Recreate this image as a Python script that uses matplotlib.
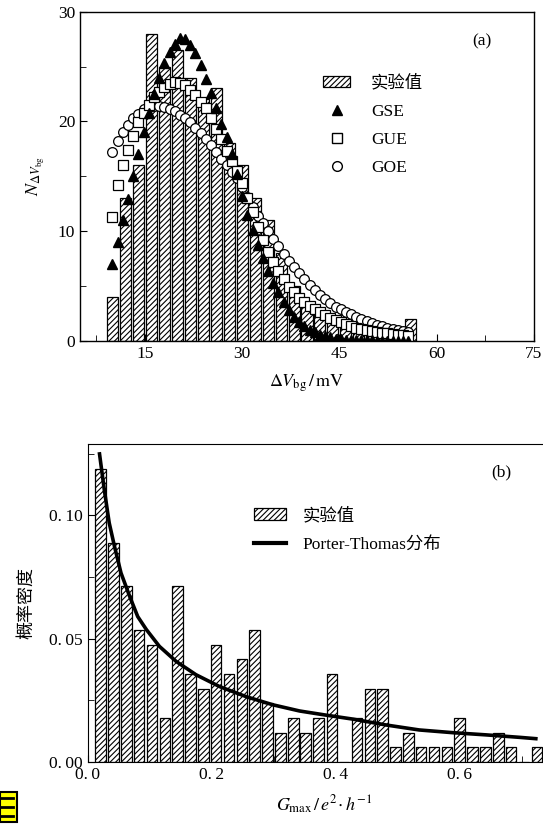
import matplotlib
matplotlib.use("Agg")
import matplotlib.pyplot as plt
from matplotlib.patches import Rectangle
from matplotlib.lines import Line2D
from matplotlib.ticker import MultipleLocator, FixedLocator

plt.rcParams['font.family'] = ['Liberation Serif', 'Noto Sans CJK SC', 'DejaVu Sans']
plt.rcParams['mathtext.fontset'] = 'stix'
plt.rcParams['hatch.linewidth'] = 0.8

# ---------------- panel (a) data ----------------
bar_a_x = [10, 12, 14, 16, 18, 20, 22, 24, 26, 28, 30, 32, 34, 36, 38, 40, 42, 44, 46, 48, 50, 52, 54, 56]
bar_a_h = [4, 13, 16, 28, 25, 26.5, 24, 22, 23, 18, 16, 13, 11, 8, 5, 3.5, 2.5, 2, 1.5, 1, 0.5, 0.5, 0.5, 2]

curve_x = [10.0, 10.8, 11.6, 12.4, 13.2, 14.0, 14.8, 15.6, 16.4, 17.2, 18.0, 18.8, 19.6, 20.4, 21.2,
           22.0, 22.8, 23.6, 24.4, 25.2, 26.0, 26.8, 27.6, 28.4, 29.2, 30.0, 30.8, 31.6, 32.4, 33.2,
           34.0, 34.8, 35.6, 36.4, 37.2, 38.0, 38.8, 39.6, 40.4, 41.2, 42.0, 42.8, 43.6, 44.4, 45.2,
           46.0, 46.8, 47.6, 48.4, 49.2, 50.0, 50.8, 51.6, 52.4, 53.2, 54.0, 54.8, 55.6]
gse = [7.0, 9.0, 11.0, 12.9, 15.0, 17.0, 19.0, 20.8, 22.5, 24.0, 25.3, 26.3, 27.1, 27.6, 27.5,
       27.0, 26.2, 25.1, 23.9, 22.6, 21.2, 19.8, 18.6, 17.0, 15.2, 13.2, 11.5, 10.1, 8.7, 7.5,
       6.4, 5.3, 4.4, 3.5, 2.8, 2.2, 1.7, 1.3, 1.0, 0.75, 0.55, 0.4, 0.3, 0.2, 0.14,
       0.1, 0.07, 0.05, 0.03, 0.02, 0.02, 0.01, 0.01, 0.01, 0.0, 0.0, 0.0, 0.0]
gue = [11.3, 14.2, 16.0, 17.4, 18.7, 19.9, 20.8, 21.5, 22.2, 22.7, 23.1, 23.4, 23.6, 23.5, 23.3,
       22.9, 22.4, 21.8, 21.2, 20.3, 19.3, 18.4, 17.3, 16.4, 15.5, 14.4, 13.0, 11.7, 10.4, 9.2,
       8.1, 7.2, 6.4, 5.6, 4.9, 4.4, 3.9, 3.5, 3.2, 2.9, 2.6, 2.3, 2.1, 1.9, 1.7,
       1.5, 1.3, 1.15, 1.05, 0.95, 0.85, 0.78, 0.72, 0.66, 0.6, 0.54, 0.48, 0.42]
goe = [17.2, 18.2, 19.0, 19.7, 20.3, 20.7, 21.1, 21.3, 21.4, 21.4, 21.3, 21.1, 20.9, 20.6, 20.3,
       19.9, 19.4, 18.9, 18.4, 17.8, 17.2, 16.6, 16.0, 15.4, 14.8, 14.0, 13.1, 12.2, 11.4, 10.7,
       10.0, 9.3, 8.6, 7.9, 7.3, 6.7, 6.2, 5.6, 5.1, 4.6, 4.2, 3.8, 3.4, 3.1, 2.9,
       2.6, 2.4, 2.2, 2.0, 1.8, 1.6, 1.45, 1.3, 1.2, 1.05, 0.95, 0.85, 0.75]

# ---------------- panel (b) data ----------------
bar_b_x = [0.021, 0.042, 0.063, 0.083, 0.104, 0.125, 0.145, 0.166, 0.187, 0.207, 0.228, 0.249,
           0.269, 0.290, 0.311, 0.332, 0.352, 0.373, 0.394, 0.414, 0.435, 0.456, 0.476, 0.497,
           0.518, 0.538, 0.559, 0.580, 0.600, 0.621, 0.642, 0.663, 0.683, 0.704, 0.725]
bar_b_h = [0.119, 0.089, 0.0714, 0.0536, 0.0476, 0.0179, 0.0714, 0.0357, 0.0298, 0.0476, 0.0357, 0.0417,
           0.0536, 0.0238, 0.0119, 0.0179, 0.0119, 0.0179, 0.0357, 0.0, 0.0179, 0.0298, 0.0298, 0.006,
           0.0119, 0.006, 0.006, 0.006, 0.0179, 0.006, 0.006, 0.0119, 0.006, 0.0, 0.006]
pt_x = [0.019, 0.027, 0.035, 0.0435, 0.054, 0.068, 0.081, 0.095, 0.116, 0.143, 0.175, 0.213,
        0.256, 0.299, 0.342, 0.385, 0.428, 0.482, 0.535, 0.589, 0.643, 0.697, 0.726]
pt_y = [0.1257, 0.1106, 0.097, 0.0875, 0.0767, 0.0672, 0.059, 0.0537, 0.0469, 0.0408, 0.0354, 0.0306,
        0.0265, 0.0232, 0.0207, 0.019, 0.0174, 0.015, 0.013, 0.0119, 0.011, 0.010, 0.0094]

W, H = 543, 827
fig = plt.figure(figsize=(W / 100, H / 100), dpi=100)

HATCH = '//////'

# ---------- (a) ----------
axa = fig.add_axes([80 / W, 1 - 340.7 / H, (534 - 80) / W, (340.7 - 11.7) / H])
axa.bar(bar_a_x, bar_a_h, width=1.7, color='white', edgecolor='black', hatch=HATCH,
        linewidth=0.9, zorder=2)
axa.plot(curve_x, goe, linestyle='none', marker='o', ms=7, mfc='white', mec='black', mew=0.9, zorder=3)
axa.plot(curve_x, gue, linestyle='none', marker='s', ms=6.5, mfc='white', mec='black', mew=0.9, zorder=4)
axa.plot(curve_x, gse, linestyle='none', marker='^', ms=7.5, mfc='black', mec='black', zorder=5)
axa.set_xlim(5, 75)
axa.set_ylim(0, 30)
axa.xaxis.set_major_locator(FixedLocator([15, 30, 45, 60, 75]))
axa.xaxis.set_minor_locator(MultipleLocator(7.5))
axa.yaxis.set_major_locator(MultipleLocator(10))
axa.yaxis.set_minor_locator(MultipleLocator(5))
axa.tick_params(which='both', direction='in', top=False, right=False, labelsize=12.5)
axa.tick_params(which='major', length=5)
axa.tick_params(which='minor', length=4)
for s in axa.spines.values():
    s.set_linewidth(1.0)
axa.set_xlabel(r'$\Delta V_{\rm bg}\,/\,\mathrm{mV}$', fontsize=13, labelpad=8)
axa.set_ylabel(r'$N_{\Delta V_{\rm bg}}$', fontsize=13, labelpad=8)
axa.text(0.885, 0.91, '(a)', transform=axa.transAxes, fontsize=12.5, ha='center', va='center')

handles_a = [Rectangle((0, 0), 1, 1, facecolor='white', edgecolor='black', hatch=HATCH, linewidth=0.9),
             Line2D([], [], linestyle='none', marker='^', ms=7.5, mfc='black', mec='black'),
             Line2D([], [], linestyle='none', marker='s', ms=6.5, mfc='white', mec='black'),
             Line2D([], [], linestyle='none', marker='o', ms=7, mfc='white', mec='black')]
axa.legend(handles_a, ['实验值', 'GSE', 'GUE', 'GOE'], loc='upper left',
           bbox_to_anchor=(0.5, 0.855), frameon=False, fontsize=12.5,
           handlelength=1.6, handleheight=0.6, labelspacing=0.7, handletextpad=1.2)

# ---------- (b) ----------
axb = fig.add_axes([87.5 / W, 1 - 762 / H, (560 - 87.5) / W, (762 - 444) / H])
axb.bar(bar_b_x, bar_b_h, width=0.017, color='white', edgecolor='black', hatch=HATCH,
        linewidth=0.9, zorder=2)
axb.plot(pt_x, pt_y, color='black', linewidth=2.6, zorder=3, solid_capstyle='butt')
axb.set_xlim(0, (560 - 87.5) / 620)
axb.set_ylim(0, 0.129)
axb.xaxis.set_major_locator(FixedLocator([0.0, 0.2, 0.4, 0.6]))
axb.xaxis.set_minor_locator(MultipleLocator(0.1))
axb.yaxis.set_major_locator(FixedLocator([0.0, 0.05, 0.10]))
axb.yaxis.set_minor_locator(MultipleLocator(0.025))
axb.set_xticklabels(['0.\u20090', '0.\u20092', '0.\u20094', '0.\u20096'])
axb.set_yticklabels(['0.\u200900', '0.\u200905', '0.\u200910'])
axb.tick_params(which='both', direction='in', top=False, right=False, labelsize=12.5)
axb.tick_params(which='major', length=5)
axb.tick_params(which='minor', length=4)
axb.spines['right'].set_visible(False)
axb.set_xlabel(r'$G_{\rm max}\,/\,e^{2}\!\cdot h^{-1}$', fontsize=13, labelpad=8)
axb.set_ylabel('概率密度', fontsize=13, labelpad=10, family=['Noto Sans CJK SC'])
axb.text(0.875, 0.91, '(b)', transform=axb.transAxes, fontsize=12.5, ha='center', va='center')

handles_b = [Rectangle((0, 0), 1, 1, facecolor='white', edgecolor='black', hatch=HATCH, linewidth=0.9),
             Line2D([], [], color='black', linewidth=3)]
axb.legend(handles_b, ['实验值', 'Porter-Thomas分布'], loc='upper left',
           bbox_to_anchor=(0.32, 0.85), frameon=False, fontsize=12.5,
           handlelength=1.8, handleheight=0.7, labelspacing=0.75, handletextpad=1.0)

# small yellow icon in the bottom-left corner
icon = Rectangle((0, 1 - 822 / H), 17 / W, 30 / H, transform=fig.transFigure,
                 facecolor='#ffff00', edgecolor='black', linewidth=1.5)
fig.patches.append(icon)
for yy in [798, 807, 816]:
    fig.lines.append(Line2D([0, 13 / W], [1 - yy / H, 1 - yy / H], transform=fig.transFigure,
                            color='black', linewidth=2))

fig.savefig('out.png', dpi=100)
